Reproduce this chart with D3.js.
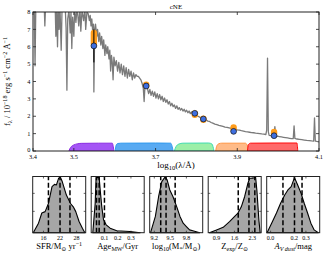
<!DOCTYPE html>
<html>
<head>
<meta charset="utf-8">
<script src="https://cdn.jsdelivr.net/npm/d3@7"></script>
<style>
  html, body { margin: 0; padding: 0; background: #fff; }
  svg { display: block; }
  text { font-family: "Liberation Serif", "DejaVu Serif", serif; fill: #000; }
</style>
</head>
<body>
<script>
// spectrum: [log10(lambda/A), flux]
const spectrum = [
  [3.400,8.6],[3.403,8.4],[3.405,4.9],[3.407,8.5],[3.411,8.3],[3.414,8.6],[3.416,8.2],[3.420,8.5],
  [3.424,8.4],[3.427,8.7],[3.429,7.2],[3.431,8.5],[3.436,8.6],[3.441,8.4],[3.446,8.5],[3.450,8.3],
  [3.454,8.6],[3.456,6.6],[3.458,8.2],[3.460,6.0],[3.462,8.4],[3.464,7.0],[3.466,8.3],[3.469,5.8],
  [3.471,8.1],[3.475,8.4],[3.479,8.2],[3.481,7.1],[3.483,3.5],[3.485,7.6],[3.488,8.1],[3.491,6.8],
  [3.493,8.0],[3.495,5.9],[3.497,7.7],[3.500,6.6],[3.502,8.2],[3.505,7.4],[3.508,8.3],[3.512,7.2],
  [3.515,8.2],[3.517,6.9],[3.520,8.1],[3.524,7.5],[3.527,8.2],[3.529,7.0],[3.532,8.0],[3.535,7.9],
  [3.538,7.5],[3.540,7.8],[3.542,7.2],[3.544,7.6],[3.546,6.9],[3.548,7.3],[3.549,3.4],[3.551,7.0],
  [3.553,7.3],[3.556,6.6],[3.558,7.0],[3.561,6.3],[3.563,6.8],[3.566,6.1],[3.568,6.6],[3.571,5.9],
  [3.573,6.4],[3.576,5.5],[3.578,6.1],[3.581,5.6],[3.583,6.0],[3.586,5.3],[3.588,5.8],[3.590,4.6],
  [3.592,5.5],[3.594,5.1],[3.596,4.1],[3.598,5.4],[3.601,4.9],[3.604,5.2],[3.607,4.6],[3.610,5.1],
  [3.613,4.5],[3.616,5.0],[3.619,4.4],[3.622,4.9],[3.625,4.3],[3.628,4.8],[3.631,4.2],[3.634,4.7],
  [3.637,4.3],[3.640,4.6],[3.643,4.1],[3.646,4.5],[3.649,4.2],[3.652,4.4],[3.655,4.3],[3.658,4.3],
  [3.661,4.2],[3.664,4.1],[3.667,3.9],[3.670,3.6],[3.672,2.85],[3.674,3.7],[3.677,3.75],[3.680,3.6],
  [3.683,3.3],[3.686,3.55],[3.689,3.2],[3.692,3.45],[3.695,3.15],[3.698,3.4],[3.701,3.05],[3.704,3.3],
  [3.707,3.0],[3.710,3.25],[3.713,2.95],[3.716,3.15],[3.719,2.85],[3.722,3.05],[3.725,2.8],[3.728,2.95],
  [3.731,2.7],[3.734,2.85],[3.737,2.6],[3.740,2.75],[3.743,2.55],[3.746,2.65],[3.749,2.45],[3.752,2.6],
  [3.755,2.4],[3.758,2.5],[3.761,2.35],[3.764,2.45],[3.767,2.3],[3.770,2.4],[3.773,2.25],[3.776,2.35],
  [3.779,2.2],[3.782,2.3],[3.785,2.15],[3.788,2.25],[3.791,2.1],[3.794,2.2],[3.797,2.1],[3.800,2.05],
  [3.804,2.0],[3.808,1.95],[3.812,1.9],[3.816,1.88],[3.820,1.82],[3.824,1.78],[3.828,1.72],[3.832,1.7],
  [3.836,1.64],[3.840,1.6],[3.845,1.55],[3.850,1.52],[3.855,1.48],[3.860,1.45],[3.865,1.42],[3.870,1.38],
  [3.875,1.36],[3.880,1.33],[3.885,1.3],[3.890,1.28],[3.895,1.25],[3.900,1.22],[3.905,1.2],[3.910,1.17],
  [3.915,1.15],[3.920,1.12],[3.925,1.1],[3.930,1.08],[3.935,1.06],[3.940,1.05],[3.945,1.03],[3.950,1.02],
  [3.955,1.0],[3.960,0.98],[3.965,0.97],[3.970,0.95],[3.972,1.2],[3.974,5.35],[3.976,1.1],[3.978,0.9],
  [3.982,0.88],[3.986,0.87],[3.990,0.86],[3.992,1.4],[3.994,0.86],[3.998,0.85],[4.003,0.83],[4.008,0.81],
  [4.013,0.79],[4.018,0.77],[4.023,0.75],[4.028,0.73],[4.033,0.71],[4.037,0.72],[4.039,1.45],[4.041,0.72],
  [4.046,0.69],[4.052,0.67],[4.058,0.65],[4.064,0.63],[4.070,0.61],[4.076,0.6],[4.082,0.58],[4.087,0.57],
  [4.089,1.9],[4.091,0.57],[4.095,0.55],[4.100,0.53]
];

// photometry
const photLam   = [3.549, 3.677, 3.796, 3.817, 3.891, 3.990];
const photFlux  = [6.05, 3.74, 2.17, 1.84, 1.13, 0.88];
const photErr   = [0.95, 0.08, 0.05, 0.05, 0.05, 0.10];
const modelLow  = [6.2, 3.76, 2.08, 1.80, 1.27, 1.00];
const modelHigh = [6.8, 3.82, 2.14, 1.86, 1.36, 1.10];

// filter curves: [log10(lambda), transmission]
const uBand = [[3.488,0],[3.490,0.12],[3.494,0.26],[3.500,0.35],[3.508,0.41],[3.518,0.44],[3.560,0.45],[3.594,0.45],[3.598,0]];
const gBand = [[3.601,0],[3.603,0.3],[3.607,0.43],[3.615,0.45],[3.700,0.46],[3.737,0.45],[3.743,0]];
const rBand = [[3.746,0],[3.750,0.25],[3.757,0.4],[3.767,0.45],[3.830,0.46],[3.838,0.4],[3.843,0]];
const iBand = [[3.847,0],[3.850,0.3],[3.855,0.42],[3.862,0.45],[3.920,0.45],[3.925,0.3],[3.928,0]];
const zBand = [[3.925,0],[3.927,0.35],[3.932,0.45],[3.990,0.46],[4.046,0.46],[4.048,0]];
const bandFill = ["#a455f5", "#58aaf2", "#9cefa8", "#ffbb88", "#ff6a6a"];
const bandEdge = ["#8a2be2", "#2e9af0", "#40dcb0", "#ff9440", "#ff0a0a"];

const xTicks = [3.4, 3.5, 3.7, 3.9, 4.1];
const yTicks = [0, 1, 2, 3, 4, 5, 6, 7, 8];

// posterior distributions: [value, density]
const sfrPdf = [[12.3,0],[14.2,0.17],[15.4,0.35],[16.6,0.375],[17.8,0.52],[19.1,0.82],[20.0,0.86],[20.7,0.85],
  [21.5,0.97],[22.1,0.99],[22.8,0.91],[24.3,0.67],[25.8,0.52],[26.8,0.46],[27.7,0.375],[28.9,0.2],[30.1,0.08],[31.0,0.0]];
const agePdf = [[0.012,0],[0.03,0.52],[0.037,0.98],[0.06,0.98],[0.068,0.76],[0.08,0.46],[0.093,0.23],[0.113,0.14],
  [0.143,0.08],[0.193,0.035],[0.293,0.02],[0.37,0.0]];
const massPdf = [[9.13,0],[9.22,0.29],[9.28,0.64],[9.34,0.91],[9.40,0.99],[9.44,0.94],[9.49,0.76],[9.55,0.64],
  [9.62,0.46],[9.68,0.29],[9.74,0.17],[9.80,0.11],[9.86,0.05],[9.92,0.035],[10.05,0.0]];
const zPdf = [[0.62,0],[0.90,0.05],[1.16,0.095],[1.42,0.2],[1.61,0.29],[1.74,0.35],[1.87,0.46],[2.00,0.64],
  [2.13,0.88],[2.20,0.97],[2.32,0.97],[2.43,0.99],[2.48,0.76],[2.56,0.22],[2.61,0.0]];
const avPdf = [[-0.03,0],[0.009,0.17],[0.05,0.35],[0.084,0.52],[0.12,0.67],[0.147,0.76],[0.175,0.82],[0.203,0.98],
  [0.23,0.85],[0.259,0.70],[0.286,0.52],[0.314,0.35],[0.342,0.17],[0.37,0.05],[0.405,0.0]];

const sfrPct  = [17.8, 22.0, 25.6];
const agePct  = [0.04, 0.06, 0.10];
const massPct = [9.32, 9.42, 9.59];
const zPct    = [1.75, 2.17, 2.40];
const avPct   = [0.105, 0.203, 0.267];

const sfrTicks  = [16, 22, 28];
const ageTicks  = [0.1, 0.2, 0.3];
const massTicks = [9.2, 9.5, 9.8];
const zTicks    = [0.9, 1.6, 2.3];
const avTicks   = [0.0, 0.2, 0.3];

const width = 333, height = 259;
const svg = d3.select("body").append("svg")
  .attr("width", width).attr("height", height);

// ---------- main panel ----------
const mL = 33, mR = 319, mT = 12, mB = 151;
const x = d3.scaleLinear().domain([3.4, 4.1]).range([mL, mR]);
const y = d3.scaleLinear().domain([0, 8]).range([mB, mT]);

svg.append("clipPath").attr("id", "clipMain")
  .append("rect").attr("x", mL).attr("y", mT).attr("width", mR - mL).attr("height", mB - mT);

const plot = svg.append("g").attr("clip-path", "url(#clipMain)");

[uBand, gBand, rBand, iBand, zBand].forEach((band, i) => {
  plot.append("path")
    .datum(band)
    .attr("d", d3.area().x(d => x(d[0])).y0(y(0)).y1(d => y(d[1])).curve(d3.curveMonotoneX))
    .attr("fill", bandFill[i])
    .attr("stroke", bandEdge[i]).attr("stroke-width", 1);
});

plot.append("path")
  .datum(spectrum)
  .attr("d", d3.line().x(d => x(d[0])).y(d => y(d[1])))
  .attr("fill", "none").attr("stroke", "#7a7a7a").attr("stroke-width", 1.3)
  .attr("stroke-linejoin", "round");

// model photometry (orange)
plot.selectAll(".model")
  .data(photLam)
  .enter().append("line")
  .attr("x1", d => x(d)).attr("x2", d => x(d))
  .attr("y1", (d, i) => y(modelLow[i])).attr("y2", (d, i) => y(modelHigh[i]))
  .attr("stroke", "#ff9c1a").attr("stroke-width", 6.4).attr("stroke-linecap", "round");

// error bars
plot.selectAll(".err")
  .data(photLam)
  .enter().append("line")
  .attr("x1", d => x(d)).attr("x2", d => x(d))
  .attr("y1", (d, i) => y(photFlux[i] - photErr[i])).attr("y2", (d, i) => y(photFlux[i] + photErr[i]))
  .attr("stroke", "#000").attr("stroke-width", 1);

plot.selectAll(".obs")
  .data(photLam)
  .enter().append("circle")
  .attr("cx", d => x(d)).attr("cy", (d, i) => y(photFlux[i]))
  .attr("r", 2.9)
  .attr("fill", "#3f6fe0").attr("stroke", "#111").attr("stroke-width", 0.7);

// frame + ticks
svg.append("rect").attr("x", mL).attr("y", mT).attr("width", mR - mL).attr("height", mB - mT)
  .attr("fill", "none").attr("stroke", "#222").attr("stroke-width", 1);

const tk = 3;
yTicks.forEach(t => {
  svg.append("line").attr("x1", mL).attr("x2", mL + tk).attr("y1", y(t)).attr("y2", y(t)).attr("stroke", "#222").attr("stroke-width", 0.8);
  svg.append("line").attr("x1", mR).attr("x2", mR - tk).attr("y1", y(t)).attr("y2", y(t)).attr("stroke", "#222").attr("stroke-width", 0.8);
  svg.append("text").attr("x", mL - 2.5).attr("y", y(t)).attr("dy", t === 0 ? "0.15em" : "0.35em")
    .attr("text-anchor", "end").style("font-size", "6.3px").text(t);
});
xTicks.forEach(t => {
  svg.append("line").attr("x1", x(t)).attr("x2", x(t)).attr("y1", mB).attr("y2", mB - tk).attr("stroke", "#222").attr("stroke-width", 0.8);
  svg.append("line").attr("x1", x(t)).attr("x2", x(t)).attr("y1", mT).attr("y2", mT + tk).attr("stroke", "#222").attr("stroke-width", 0.8);
  svg.append("text").attr("x", x(t)).attr("y", mB + 8.2)
    .attr("text-anchor", "middle").style("font-size", "6.3px").text(d3.format(".1f")(t));
});

// helper for sub/superscripts
function richText(sel, parts) {
  let shift = 0;
  parts.forEach(p => {
    const target = p.s === "sub" ? 2 : p.s === "sup" ? -3 : 0;
    const ts = sel.append("tspan").attr("dy", target - shift).text(p.t);
    if (p.s) ts.style("font-size", "0.72em");
    if (p.i) ts.style("font-style", "italic");
    shift = target;
  });
}

svg.append("text").attr("x", (mL + mR) / 2).attr("y", 9)
  .attr("text-anchor", "middle").style("font-size", "7px").text("cNE");

const xl = svg.append("text").attr("x", (mL + mR) / 2).attr("y", 167.5)
  .attr("text-anchor", "middle").style("font-size", "9px");
richText(xl, [{t: "log"}, {t: "10", s: "sub"}, {t: "(λ/Å)"}]);

const yl = svg.append("text")
  .attr("transform", `translate(10,${(mT + mB) / 2}) rotate(-90)`)
  .attr("text-anchor", "middle").style("font-size", "8.5px");
richText(yl, [{t: "f"}, {t: "λ", s: "sub"}, {t: " / 10"}, {t: "−18", s: "sup"}, {t: " erg s"}, {t: "−1", s: "sup"},
  {t: " cm"}, {t: "−2", s: "sup"}, {t: " Å"}, {t: "−1", s: "sup"}]);

// ---------- posterior panels ----------
const pT = 176.5, pB = 232.7, pW = 53, pStep = 58.5, p0 = 32.7;
const panels = [
  {domain: [12.1, 31.3], ticks: sfrTicks, fmt: d3.format("d"), pdf: sfrPdf, pct: sfrPct,
   label: [{t: "SFR/M"}, {t: "⊙", s: "sub"}, {t: " yr"}, {t: "−1", s: "sup"}]},
  {domain: [0.0, 0.4], ticks: ageTicks, fmt: d3.format(".1f"), pdf: agePdf, pct: agePct,
   label: [{t: "Age"}, {t: "MW", s: "sub"}, {t: "/Gyr"}]},
  {domain: [9.114, 10.105], ticks: massTicks, fmt: d3.format(".1f"), pdf: massPdf, pct: massPct,
   label: [{t: "log"}, {t: "10", s: "sub"}, {t: "(M"}, {t: "*", s: "sub"}, {t: "/M"}, {t: "⊙", s: "sub"}, {t: ")"}]},
  {domain: [0.573, 2.65], ticks: zTicks, fmt: d3.format(".1f"), pdf: zPdf, pct: zPct,
   label: [{t: "Z"}, {t: "exp", s: "sub"}, {t: "/Z"}, {t: "⊙", s: "sub"}]},
  {domain: [-0.033, 0.417], ticks: avTicks, fmt: d3.format(".1f"), pdf: avPdf, pct: avPct,
   label: [{t: "A", i: true}, {t: "V dust", s: "sub", i: true}, {t: "/mag"}]}
];

const hy = d3.scaleLinear().domain([0, 1]).range([pB, pT]);
const hTicks = [0.38, 0.7];

panels.forEach((p, i) => {
  const left = p0 + i * pStep, right = left + pW;
  const hx = d3.scaleLinear().domain(p.domain).range([left, right]);
  const g = svg.append("g");

  g.append("path").datum(p.pdf)
    .attr("d", d3.area().x(d => hx(d[0])).y0(pB).y1(d => hy(d[1])))
    .attr("fill", "#a6a6a6").attr("stroke", "#000").attr("stroke-width", 1.1)
    .attr("stroke-linejoin", "round");

  g.selectAll(".pct").data(p.pct).enter().append("line")
    .attr("x1", d => hx(d)).attr("x2", d => hx(d))
    .attr("y1", pB).attr("y2", pT)
    .attr("stroke", "#000").attr("stroke-width", 1.5).attr("stroke-dasharray", "5,2.5");

  g.append("rect").attr("x", left).attr("y", pT).attr("width", pW).attr("height", pB - pT)
    .attr("fill", "none").attr("stroke", "#222").attr("stroke-width", 1);

  p.ticks.forEach(t => {
    g.append("line").attr("x1", hx(t)).attr("x2", hx(t)).attr("y1", pB).attr("y2", pB - 2).attr("stroke", "#222").attr("stroke-width", 0.7);
    g.append("line").attr("x1", hx(t)).attr("x2", hx(t)).attr("y1", pT).attr("y2", pT + 2).attr("stroke", "#222").attr("stroke-width", 0.7);
    g.append("text").attr("x", hx(t)).attr("y", pB + 7)
      .attr("text-anchor", "middle").style("font-size", "6px").text(p.fmt(t));
  });
  hTicks.forEach(t => {
    g.append("line").attr("x1", left).attr("x2", left + 2).attr("y1", hy(t)).attr("y2", hy(t)).attr("stroke", "#222").attr("stroke-width", 0.7);
    g.append("line").attr("x1", right).attr("x2", right - 2).attr("y1", hy(t)).attr("y2", hy(t)).attr("stroke", "#222").attr("stroke-width", 0.7);
  });

  const lab = g.append("text").attr("x", (left + right) / 2).attr("y", 249)
    .attr("text-anchor", "middle").style("font-size", "8.5px");
  richText(lab, p.label);
});
</script>
</body>
</html>
